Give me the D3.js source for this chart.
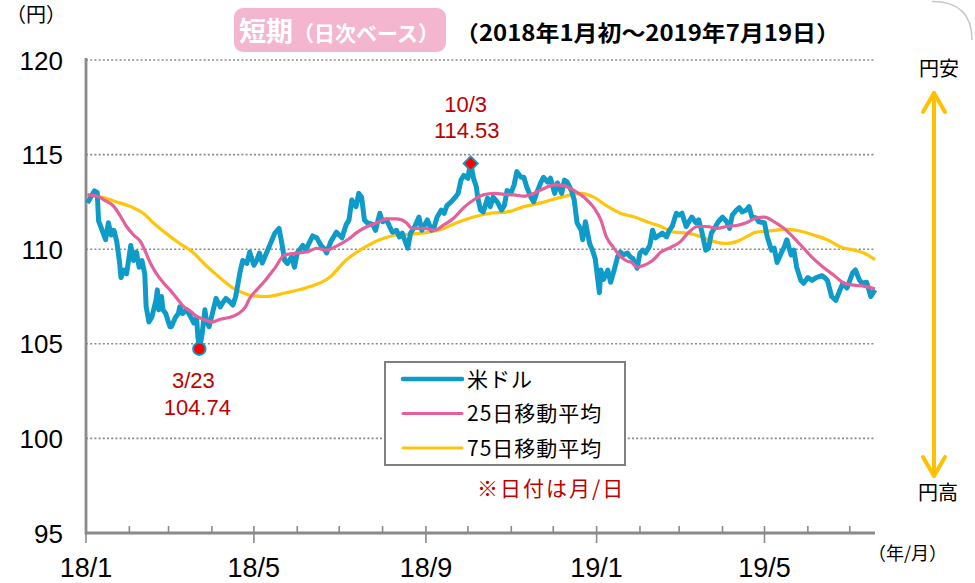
<!DOCTYPE html>
<html lang="ja">
<head>
<meta charset="UTF-8">
<title>米ドル/円 短期（日次ベース）</title>
<script src="https://d3js.org/d3.v7.min.js"></script>
<style>
  body { margin: 0; background: #fff; }
  svg { display: block; font-family: "Liberation Sans", Arial, sans-serif; }
  .jp { font-family: "Noto Sans CJK JP", sans-serif; }
</style>
</head>
<body>
<svg width="975" height="583"></svg>
<script>
// 米ドル（日次終値・グラフから読み取り）
const usdJpy = [
  ["2018-01-02",112.44],["2018-01-07",113.08],["2018-01-09",113.0],["2018-01-10",111.5],["2018-01-12",111.1],
  ["2018-01-15",110.5],["2018-01-17",111.4],["2018-01-19",110.75],["2018-01-21",111.0],["2018-01-23",110.4],
  ["2018-01-25",109.3],["2018-01-26",108.5],["2018-01-28",108.9],["2018-01-30",108.7],["2018-02-02",110.2],
  ["2018-02-04",109.4],["2018-02-06",109.85],["2018-02-08",109.05],["2018-02-10",109.4],["2018-02-12",108.7],
  ["2018-02-13",106.95],["2018-02-15",106.15],["2018-02-17",106.4],["2018-02-20",107.3],["2018-02-21",107.85],
  ["2018-02-22",106.8],["2018-02-24",107.5],["2018-02-25",106.8],["2018-02-27",106.6],["2018-03-02",105.9],
  ["2018-03-03",105.9],["2018-03-06",106.4],["2018-03-08",106.6],["2018-03-09",106.95],["2018-03-11",106.6],
  ["2018-03-14",106.8],["2018-03-17",106.4],["2018-03-19",106.1],["2018-03-21",106.4],["2018-03-22",105.35],
  ["2018-03-23",104.74],["2018-03-25",105.5],["2018-03-27",106.8],["2018-03-28",106.25],["2018-03-30",105.9],
  ["2018-04-02",106.8],["2018-04-04",107.4],["2018-04-07",106.95],["2018-04-09",107.2],["2018-04-11",107.4],
  ["2018-04-14",107.2],["2018-04-16",107.05],["2018-04-18",107.5],["2018-04-21",108.75],["2018-04-23",109.4],
  ["2018-04-26",109.25],["2018-04-28",109.85],["2018-05-01",109.15],["2018-05-03",109.4],["2018-05-05",109.8],
  ["2018-05-07",109.27],["2018-05-10",109.8],["2018-05-14",110.5],["2018-05-16",110.85],["2018-05-19",111.1],
  ["2018-05-21",110.3],["2018-05-23",109.4],["2018-05-25",109.25],["2018-05-28",109.6],["2018-05-30",109.05],
  ["2018-06-01",109.8],["2018-06-05",110.2],["2018-06-07",109.95],["2018-06-10",110.4],["2018-06-12",110.7],
  ["2018-06-15",110.6],["2018-06-18",110.2],["2018-06-20",110.05],["2018-06-22",109.8],["2018-06-25",110.4],
  ["2018-06-29",110.9],["2018-07-01",110.75],["2018-07-03",110.6],["2018-07-06",111.3],["2018-07-08",111.55],
  ["2018-07-10",112.6],["2018-07-13",112.25],["2018-07-15",112.95],["2018-07-17",112.75],["2018-07-19",111.55],
  ["2018-07-21",111.4],["2018-07-25",111.3],["2018-07-27",111.0],["2018-07-30",111.9],["2018-08-01",111.45],
  ["2018-08-04",111.55],["2018-08-06",111.2],["2018-08-08",110.9],["2018-08-11",111.0],["2018-08-13",110.65],
  ["2018-08-15",110.85],["2018-08-19",110.05],["2018-08-21",110.85],["2018-08-24",111.2],["2018-08-27",111.7],
  ["2018-08-29",111.0],["2018-09-02",111.55],["2018-09-05",111.0],["2018-09-07",111.2],["2018-09-09",111.7],
  ["2018-09-12",112.07],["2018-09-14",111.9],["2018-09-16",112.3],["2018-09-19",112.5],["2018-09-22",112.75],
  ["2018-09-24",112.95],["2018-09-26",113.65],["2018-09-28",113.9],["2018-10-01",113.75],["2018-10-02",114.2],
  ["2018-10-03",114.53],["2018-10-05",113.75],["2018-10-07",113.3],["2018-10-08",112.75],["2018-10-10",112.07],
  ["2018-10-12",111.97],["2018-10-15",112.7],["2018-10-17",112.25],["2018-10-19",112.75],["2018-10-22",112.5],
  ["2018-10-25",112.07],["2018-10-27",112.3],["2018-10-29",113.1],["2018-11-01",113.0],["2018-11-03",113.4],
  ["2018-11-05",114.1],["2018-11-08",113.8],["2018-11-10",113.8],["2018-11-12",113.3],["2018-11-15",112.75],
  ["2018-11-17",112.5],["2018-11-19",112.95],["2018-11-22",113.5],["2018-11-24",113.8],["2018-11-27",113.55],
  ["2018-11-29",113.75],["2018-12-02",112.95],["2018-12-04",113.5],["2018-12-07",112.95],["2018-12-09",113.65],
  ["2018-12-11",113.55],["2018-12-14",113.1],["2018-12-16",112.6],["2018-12-18",111.4],["2018-12-21",111.0],
  ["2018-12-22",110.5],["2018-12-24",111.45],["2018-12-27",110.3],["2018-12-29",109.95],["2018-12-31",109.5],
  ["2019-01-03",107.7],["2019-01-04",108.9],["2019-01-06",108.4],["2019-01-09",108.9],["2019-01-11",108.25],
  ["2019-01-13",108.75],["2019-01-16",109.6],["2019-01-18",109.85],["2019-01-20",109.7],["2019-01-23",109.8],
  ["2019-01-25",109.6],["2019-01-27",109.5],["2019-01-30",109.0],["2019-02-01",109.8],["2019-02-03",109.95],
  ["2019-02-05",109.8],["2019-02-08",110.2],["2019-02-10",111.0],["2019-02-12",110.6],["2019-02-15",110.75],
  ["2019-02-17",110.85],["2019-02-20",110.65],["2019-02-22",111.0],["2019-02-24",111.2],["2019-02-27",111.9],
  ["2019-03-01",111.8],["2019-03-03",111.9],["2019-03-06",111.2],["2019-03-08",111.45],["2019-03-10",111.7],
  ["2019-03-13",111.4],["2019-03-15",111.55],["2019-03-17",111.0],["2019-03-20",109.95],["2019-03-22",110.05],
  ["2019-03-24",110.85],["2019-03-27",111.2],["2019-03-29",111.45],["2019-04-01",111.7],["2019-04-04",111.45],
  ["2019-04-06",111.1],["2019-04-08",111.8],["2019-04-11",112.07],["2019-04-13",112.2],["2019-04-15",111.97],
  ["2019-04-18",112.07],["2019-04-20",112.25],["2019-04-22",111.7],["2019-04-25",111.65],["2019-04-27",111.45],
  ["2019-05-01",111.4],["2019-05-03",110.65],["2019-05-06",109.95],["2019-05-08",110.05],["2019-05-10",109.3],
  ["2019-05-13",109.8],["2019-05-15",110.1],["2019-05-17",110.5],["2019-05-20",109.7],["2019-05-22",109.95],
  ["2019-05-24",109.05],["2019-05-27",108.35],["2019-05-29",108.2],["2019-06-01",108.5],["2019-06-04",108.35],
  ["2019-06-07",108.5],["2019-06-11",108.6],["2019-06-13",108.5],["2019-06-15",108.35],["2019-06-18",107.5],
  ["2019-06-21",107.3],["2019-06-24",107.85],["2019-06-26",108.2],["2019-06-29",107.95],["2019-07-01",108.35],
  ["2019-07-03",108.75],["2019-07-05",108.9],["2019-07-08",108.35],["2019-07-10",108.2],["2019-07-13",108.25],
  ["2019-07-16",107.5],["2019-07-19",107.85]
];

// 25日移動平均
const ma25 = [
  ["2018-01-02",112.87],["2018-01-09",112.8],["2018-01-14",112.6],["2018-01-21",112.25],["2018-01-26",111.7],
  ["2018-01-30",111.2],["2018-02-04",110.75],["2018-02-09",110.4],["2018-02-12",109.95],["2018-02-16",109.27],
  ["2018-02-20",108.75],["2018-02-25",108.25],["2018-03-02",107.85],["2018-03-07",107.4],["2018-03-12",106.95],
  ["2018-03-17",106.7],["2018-03-21",106.45],["2018-03-26",106.3],["2018-04-01",106.15],["2018-04-07",106.3],
  ["2018-04-14",106.4],["2018-04-20",106.6],["2018-04-25",106.95],["2018-04-28",107.4],["2018-05-03",107.85],
  ["2018-05-08",108.25],["2018-05-16",109.0],["2018-05-23",109.7],["2018-06-01",109.8],["2018-06-08",109.85],
  ["2018-06-15",110.05],["2018-06-22",109.95],["2018-06-30",110.2],["2018-07-07",110.5],["2018-07-14",110.9],
  ["2018-07-21",111.2],["2018-07-28",111.4],["2018-08-04",111.6],["2018-08-11",111.6],["2018-08-18",111.4],
  ["2018-08-22",111.1],["2018-08-31",111.1],["2018-09-07",111.0],["2018-09-14",111.3],["2018-09-21",111.65],
  ["2018-09-28",112.2],["2018-10-05",112.6],["2018-10-12",112.87],["2018-10-20",112.95],["2018-10-27",112.9],
  ["2018-11-03",112.87],["2018-11-10",112.8],["2018-11-17",112.95],["2018-11-24",113.2],["2018-12-02",113.4],
  ["2018-12-09",113.35],["2018-12-16",113.1],["2018-12-23",112.75],["2018-12-30",112.2],["2019-01-04",111.55],
  ["2019-01-08",110.65],["2019-01-13",110.1],["2019-01-17",109.7],["2019-01-22",109.4],["2019-01-26",109.3],
  ["2019-01-30",109.05],["2019-02-04",109.15],["2019-02-10",109.4],["2019-02-16",109.85],["2019-02-23",110.1],
  ["2019-03-02",110.4],["2019-03-08",110.9],["2019-03-14",111.2],["2019-03-21",111.2],["2019-03-28",111.1],
  ["2019-04-04",111.2],["2019-04-11",111.25],["2019-04-18",111.4],["2019-04-25",111.65],["2019-05-01",111.7],
  ["2019-05-08",111.45],["2019-05-15",111.1],["2019-05-22",110.6],["2019-05-29",110.05],["2019-06-05",109.5],
  ["2019-06-12",109.05],["2019-06-20",108.6],["2019-06-27",108.2],["2019-07-04",108.1],["2019-07-11",108.05],
  ["2019-07-19",107.9]
];

// 75日移動平均
const ma75 = [
  ["2018-01-02",112.87],["2018-01-12",112.75],["2018-01-23",112.5],["2018-02-02",112.25],["2018-02-11",111.9],
  ["2018-02-18",111.4],["2018-02-27",110.85],["2018-03-09",110.3],["2018-03-19",109.8],["2018-03-26",109.27],
  ["2018-04-02",108.8],["2018-04-09",108.35],["2018-04-16",107.95],["2018-04-23",107.7],["2018-05-01",107.53],
  ["2018-05-10",107.5],["2018-05-24",107.7],["2018-06-07",107.95],["2018-06-24",108.5],["2018-07-06",109.43],
  ["2018-07-17",110.0],["2018-07-30",110.5],["2018-08-11",110.75],["2018-08-22",110.8],["2018-09-03",110.9],
  ["2018-09-12",111.05],["2018-09-23",111.4],["2018-10-05",111.7],["2018-10-17",111.9],["2018-10-29",111.97],
  ["2018-11-10",112.25],["2018-11-22",112.45],["2018-12-04",112.7],["2018-12-14",112.87],["2018-12-21",112.95],
  ["2018-12-30",112.75],["2019-01-08",112.3],["2019-01-18",111.9],["2019-01-28",111.7],["2019-02-06",111.45],
  ["2019-02-16",111.2],["2019-02-25",110.9],["2019-03-07",110.85],["2019-03-17",110.65],["2019-03-26",110.4],
  ["2019-04-04",110.3],["2019-04-11",110.4],["2019-04-18",110.65],["2019-04-25",110.9],["2019-05-03",110.95],
  ["2019-05-17",111.05],["2019-05-27",110.95],["2019-06-05",110.75],["2019-06-15",110.5],["2019-06-25",110.1],
  ["2019-07-04",109.95],["2019-07-11",109.8],["2019-07-19",109.45]
];

const yTicks = [95, 100, 105, 110, 115, 120];
const majorMonths = ["2018-01-01", "2018-05-01", "2018-09-01", "2019-01-01", "2019-05-01"];
const legendLabels = ["米ドル", "25日移動平均", "75日移動平均"];
const lowPoint = { date: "2018-03-23", value: 104.74, label: "3/23" };
const highPoint = { date: "2018-10-03", value: 114.53, label: "10/3" };

const BLUE = "#0E9BC9", PINK = "#E3609A", YELLOW = "#FFC50C", RED_TEXT = "#C00000";

const parse = d3.timeParse("%Y-%m-%d");
const svg = d3.select("svg");

const x = d3.scaleTime()
  .domain([parse("2018-01-01"), parse("2019-07-19")])
  .range([86, 875]);
const y = d3.scaleLinear().domain([95, 120]).range([533, 60]);

// 枠の角（右上）
svg.append("path")
  .attr("d", "M932,1.5 Q972,1.5 972,40")
  .attr("fill", "none").attr("stroke", "#c8c8c8").attr("stroke-width", 1.5);

// グリッド線
svg.append("g").selectAll("line")
  .data(yTicks.filter(d => d > 95))
  .join("line")
  .attr("x1", x.range()[0]).attr("x2", x.range()[1])
  .attr("y1", d => y(d)).attr("y2", d => y(d))
  .attr("stroke", "#8a8a8a").attr("stroke-width", 1.6)
  .attr("stroke-dasharray", "2,2.2");

// y軸ラベル
svg.append("g").selectAll("text")
  .data(yTicks)
  .join("text")
  .attr("x", 63).attr("y", d => y(d) + 9.5)
  .attr("text-anchor", "end")
  .attr("font-size", 26)
  .attr("fill", "#000")
  .text(d => d);

// x軸（月次目盛り）
const months = d3.timeMonth.range(parse("2018-01-01"), parse("2019-07-19"));
const majorSet = new Set(majorMonths);
const fmtKey = d3.timeFormat("%Y-%m-%d");
svg.append("g").selectAll("line")
  .data(months)
  .join("line")
  .attr("x1", d => x(d)).attr("x2", d => x(d))
  .attr("y1", d => majorSet.has(fmtKey(d)) ? 543 : 533)
  .attr("y2", 526)
  .attr("stroke", "#8a8a8a").attr("stroke-width", 1.6);

svg.append("g").selectAll("text")
  .data(majorMonths.map(parse))
  .join("text")
  .attr("x", d => x(d)).attr("y", 577)
  .attr("text-anchor", "middle")
  .attr("font-family", "'Liberation Sans Narrow', 'Liberation Sans', Arial, sans-serif")
  .attr("font-size", 27)
  .attr("fill", "#000")
  .text(d3.timeFormat("%y/%-m"));

// 軸線
svg.append("line")
  .attr("x1", 86).attr("x2", 86).attr("y1", 58).attr("y2", 534.5)
  .attr("stroke", "#8a8a8a").attr("stroke-width", 2.8);
svg.append("line")
  .attr("x1", 85).attr("x2", x.range()[1]).attr("y1", 533).attr("y2", 533)
  .attr("stroke", "#8a8a8a").attr("stroke-width", 2.8);

// 系列
const line = d3.line()
  .x(d => x(parse(d[0])))
  .y(d => y(d[1]));
const smooth = d3.line()
  .x(d => x(parse(d[0])))
  .y(d => y(d[1]))
  .curve(d3.curveMonotoneX);

svg.append("path").datum(ma75)
  .attr("fill", "none").attr("stroke", YELLOW).attr("stroke-width", 3.2)
  .attr("d", smooth);
svg.append("path").datum(usdJpy)
  .attr("fill", "none").attr("stroke", BLUE).attr("stroke-width", 5)
  .attr("stroke-linejoin", "round")
  .attr("d", line);
svg.append("path").datum(ma25)
  .attr("fill", "none").attr("stroke", PINK).attr("stroke-width", 3.2)
  .attr("d", smooth);

// 安値・高値マーカー
svg.append("circle")
  .attr("cx", x(parse(lowPoint.date))).attr("cy", y(lowPoint.value))
  .attr("r", 6.2).attr("fill", "#ff0000").attr("stroke", BLUE).attr("stroke-width", 2);
svg.append("path")
  .attr("d", d3.symbol(d3.symbolDiamond2, 130))
  .attr("transform", `translate(${x(parse(highPoint.date))},${y(highPoint.value)})`)
  .attr("fill", "#ff0000").attr("stroke", BLUE).attr("stroke-width", 1.8);

const notes = svg.append("g").attr("fill", RED_TEXT).attr("font-size", 22).attr("text-anchor", "middle");
notes.append("text").attr("x", x(parse(lowPoint.date)) - 6).attr("y", 388).text(lowPoint.label);
notes.append("text").attr("x", x(parse(lowPoint.date)) - 2).attr("y", 415).text(lowPoint.value.toFixed(2));
notes.append("text").attr("x", x(parse(highPoint.date)) - 5).attr("y", 112).text(highPoint.label);
notes.append("text").attr("x", x(parse(highPoint.date)) - 4).attr("y", 138).text(highPoint.value.toFixed(2));

// 凡例
const legend = svg.append("g").attr("transform", "translate(385,362)");
legend.append("rect")
  .attr("width", 240).attr("height", 103)
  .attr("fill", "#fff").attr("stroke", "#7f7f7f").attr("stroke-width", 2);
const legendColors = [BLUE, PINK, YELLOW];
const legendWidths = [4.5, 3, 3];
legendLabels.forEach((lab, i) => {
  const ly = 17 + i * 34.5;
  legend.append("line")
    .attr("x1", 18).attr("x2", 77).attr("y1", ly).attr("y2", ly)
    .attr("stroke", legendColors[i]).attr("stroke-width", legendWidths[i])
    .attr("stroke-linecap", "round");
  legend.append("text")
    .attr("class", "jp")
    .attr("x", 82).attr("y", ly + 7.5)
    .attr("font-size", 21).attr("letter-spacing", 1)
    .attr("fill", "#000")
    .text(lab);
});

svg.append("text").attr("class", "jp")
  .attr("x", 477).attr("y", 496)
  .attr("font-size", 21).attr("letter-spacing", 2)
  .attr("fill", RED_TEXT)
  .text("※日付は月/日");

// タイトル
svg.append("rect")
  .attr("x", 234).attr("y", 8).attr("width", 212).attr("height", 44).attr("rx", 9)
  .attr("fill", "#F4B5CF");
const t = svg.append("text").attr("class", "jp")
  .attr("x", 239).attr("y", 41).attr("fill", "#fff").attr("font-weight", "bold")
  .attr("textLength", 200).attr("lengthAdjust", "spacingAndGlyphs");
t.append("tspan").attr("font-size", 27).text("短期");
t.append("tspan").attr("font-size", 21).text("（日次ベース）");

svg.append("text").attr("class", "jp")
  .attr("x", 455).attr("y", 41)
  .attr("font-size", 22).attr("font-weight", "bold").attr("fill", "#000")
  .attr("textLength", 385).attr("lengthAdjust", "spacingAndGlyphs")
  .text("（2018年1月初～2019年7月19日）");

// 単位
svg.append("text").attr("class", "jp")
  .attr("x", 6).attr("y", 22).attr("font-size", 20).attr("fill", "#000").text("（円）");
svg.append("text").attr("class", "jp")
  .attr("x", 868).attr("y", 560).attr("font-size", 18).attr("fill", "#000").text("（年/月）");

// 円安・円高の矢印
const arrowX = 934;
const arrow = svg.append("g").attr("stroke", "#FFC000").attr("stroke-width", 4)
  .attr("fill", "none").attr("stroke-linecap", "round").attr("stroke-linejoin", "round");
arrow.append("line").attr("x1", arrowX).attr("x2", arrowX).attr("y1", 93).attr("y2", 476);
arrow.append("path").attr("d", `M${arrowX - 11},112 L${arrowX},93 L${arrowX + 11},112`);
arrow.append("path").attr("d", `M${arrowX - 11},457 L${arrowX},476 L${arrowX + 11},457`);

svg.append("text").attr("class", "jp")
  .attr("x", 939).attr("y", 76).attr("text-anchor", "middle")
  .attr("font-size", 20).attr("fill", "#000").text("円安");
svg.append("text").attr("class", "jp")
  .attr("x", 938).attr("y", 500).attr("text-anchor", "middle")
  .attr("font-size", 20).attr("fill", "#000").text("円高");
</script>
</body>
</html>
